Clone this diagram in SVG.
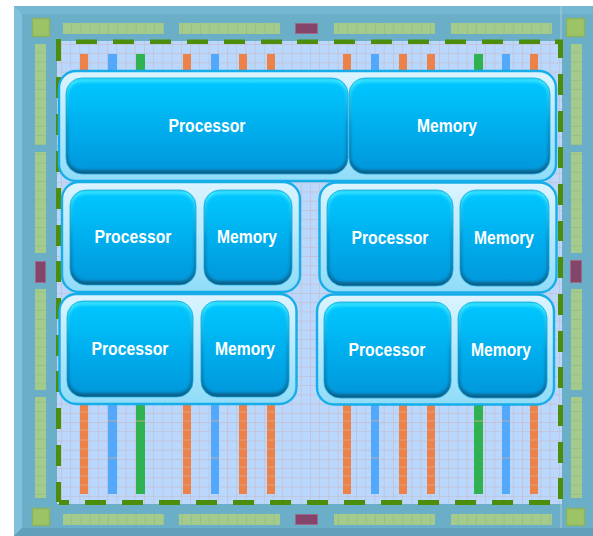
<svg xmlns="http://www.w3.org/2000/svg" width="593" height="536" viewBox="0 0 593 536">
<defs>
<linearGradient id="con" x1="0" y1="0" x2="0" y2="1"><stop offset="0" stop-color="#dcf4ff"/><stop offset="1" stop-color="#8fdcf8"/></linearGradient>
<linearGradient id="blk" x1="0" y1="0" x2="0" y2="1"><stop offset="0" stop-color="#00c6ff"/><stop offset="1" stop-color="#0598dc"/></linearGradient>
<linearGradient id="rim" x1="0" y1="0" x2="0" y2="1"><stop offset="0" stop-color="#28d0f6"/><stop offset=".04" stop-color="#3ce8ff"/><stop offset=".5" stop-color="#0a8fc8"/><stop offset=".93" stop-color="#0c6a98"/><stop offset="1" stop-color="#0c5a80"/></linearGradient>
<filter id="soft" x="-10%" y="-10%" width="120%" height="120%"><feGaussianBlur stdDeviation="1.4"/></filter>
<pattern id="grid" x="61" y="44" width="9.22" height="9.22" patternUnits="userSpaceOnUse"><rect width="9.22" height="9.22" fill="#bad8fe"/><path d="M0 0V9.22M0 0H9.22" stroke="#c3c3d6" stroke-width="1.8" fill="none"/></pattern>
<pattern id="padh" x="63" y="0" width="9.2" height="11" patternUnits="userSpaceOnUse"><rect width="9.2" height="11" fill="#a4cb8c"/><path d="M8.7 0V11" stroke="#94c08c" fill="none"/></pattern>
<pattern id="padv" x="0" y="44" width="11" height="9.2" patternUnits="userSpaceOnUse"><rect width="11" height="9.2" fill="#a4cb8c"/><path d="M0 8.7H11" stroke="#94c08c" fill="none"/></pattern>
<style>
.o{fill:#ec8249}.b{fill:#52a9fb}.g{fill:#2fb24f}
.d{fill:#4c8e0b}
.m{fill:#85446a;stroke:#9a6a88;stroke-width:1}
.c{fill:#9cc366;stroke:#8bb263;stroke-width:1.5}
.ph{fill:url(#padh)}.pv{fill:url(#padv)}
.con{fill:url(#con);stroke:#16ade9;stroke-width:2.4}
.blk{fill:url(#rim);stroke:#14a8de;stroke-width:.8}
.in{fill:url(#blk);filter:url(#soft)}
.t{font-family:"Liberation Sans",Arial,sans-serif;font-weight:700;font-size:18px;fill:#fff;text-anchor:middle}
</style>
</defs>
<rect x="0" y="0" width="593" height="536" fill="#fff"/>
<g id="chip">
<rect x="14" y="6" width="579" height="530" fill="#6aaec8"/>
<path d="M14 6H593V14H22V528H593V536H14Z" fill="#74b7d2"/>
<path d="M14 6L22 14V528L14 536Z" fill="#7fc0dd"/>
<path d="M22 528H593V536H14Z" fill="#629fbb"/>
<path d="M561 6V528" stroke="#a9cbda" stroke-width="1"/>
<rect x="57" y="41" width="505" height="463" fill="url(#grid)"/>
</g>
<g id="pads">
<rect class="c" x="32.500" y="18.500" width="17" height="18"/><rect class="c" x="566.500" y="18.500" width="18" height="18"/>
<rect class="c" x="32.500" y="508.500" width="17" height="17"/><rect class="c" x="566.500" y="508.500" width="18" height="17"/>
<rect class="ph" x="63" y="23" width="101" height="11"/><rect class="ph" x="179" y="23" width="101" height="11"/><rect class="ph" x="334" y="23" width="101" height="11"/><rect class="ph" x="451" y="23" width="101" height="11"/>
<rect class="ph" x="63" y="514" width="101" height="11"/><rect class="ph" x="179" y="514" width="101" height="11"/><rect class="ph" x="334" y="514" width="101" height="11"/><rect class="ph" x="451" y="514" width="101" height="11"/>
<rect class="pv" x="35" y="44" width="11" height="101"/><rect class="pv" x="35" y="152" width="11" height="101"/><rect class="pv" x="35" y="289" width="11" height="101"/><rect class="pv" x="35" y="397" width="11" height="101"/>
<rect class="pv" x="571" y="44" width="11" height="101"/><rect class="pv" x="571" y="152" width="11" height="101"/><rect class="pv" x="571" y="289" width="11" height="101"/><rect class="pv" x="571" y="397" width="11" height="101"/>
<rect class="m" x="295.500" y="23.500" width="22" height="10"/><rect class="m" x="295.500" y="514.500" width="22" height="10"/>
<rect class="m" x="35.500" y="261.500" width="10" height="21"/><rect class="m" x="570.500" y="260.500" width="11" height="22"/>
</g>
<g id="dashes">
<path class="d" d="M56 39H61V61H56ZM76 39.500H97V44H76ZM113 39.500H134V44H113ZM150 39.500H171V44H150ZM187 39.500H208V44H187ZM224 39.500H245V44H224ZM261 39.500H282V44H261ZM297 39.500H318V44H297ZM334 39.500H355V44H334ZM371 39.500H392V44H371ZM408 39.500H429V44H408ZM445 39.500H466V44H445ZM482 39.500H503V44H482ZM519 39.500H540V44H519ZM555 39.500H563V58H558V44H555Z"/>
<path class="d" d="M56 77H61V98H56ZM56 114H61V135H56ZM56 151H61V172H56ZM56 188H61V209H56ZM56 225H61V246H56ZM56 261H61V282H56ZM56 298H61V319H56ZM56 335H61V356H56ZM56 371H61V392H56ZM56 408H61V429H56ZM56 445H61V466H56ZM56 482H61V502H56Z"/>
<path class="d" d="M558 74H563V95H558ZM558 111H563V132H558ZM558 147H563V168H558ZM558 184H563V205H558ZM558 221H563V241H558ZM558 257H563V278H558ZM558 294H563V315H558ZM558 331H563V352H558ZM558 367H563V388H558ZM558 405H563V426H558ZM558 442H563V463H558ZM558 478H563V499H558Z"/>
<path class="d" d="M59 500H69V505H59ZM85 500H106V505H85ZM122 500H143V505H122ZM159 500H180V505H159ZM196 500H217V505H196ZM233 500H254V505H233ZM270 500H291V505H270ZM307 500H328V505H307ZM344 500H365V505H344ZM381 500H402V505H381ZM418 500H439V505H418ZM455 500H476V505H455ZM492 500H513V505H492ZM529 500H550V505H529Z"/>
</g>
<g id="connectors">
<rect class="o" x="80" y="54" width="8" height="18"/><rect class="b" x="108" y="54" width="9" height="18"/><rect class="g" x="136" y="54" width="9" height="18"/><rect class="o" x="183" y="54" width="8" height="18"/><rect class="b" x="211" y="54" width="8" height="18"/><rect class="o" x="239" y="54" width="8" height="18"/><rect class="o" x="267" y="54" width="8" height="18"/><rect class="o" x="343" y="54" width="8" height="18"/><rect class="b" x="371" y="54" width="8" height="18"/><rect class="o" x="399" y="54" width="8" height="18"/><rect class="o" x="427" y="54" width="8" height="18"/><rect class="g" x="474" y="54" width="9" height="18"/><rect class="b" x="502" y="54" width="8" height="18"/><rect class="o" x="530" y="54" width="8" height="18"/>
<rect class="o" x="80" y="400" width="8" height="94"/><rect class="b" x="108" y="400" width="9" height="94"/><rect class="g" x="136" y="400" width="9" height="94"/><rect class="o" x="183" y="400" width="8" height="94"/><rect class="b" x="211" y="400" width="8" height="94"/><rect class="o" x="239" y="400" width="8" height="94"/><rect class="o" x="267" y="400" width="8" height="94"/><rect class="o" x="343" y="400" width="8" height="94"/><rect class="b" x="371" y="400" width="8" height="94"/><rect class="o" x="399" y="400" width="8" height="94"/><rect class="o" x="427" y="400" width="8" height="94"/><rect class="g" x="474" y="400" width="9" height="94"/><rect class="b" x="502" y="400" width="8" height="94"/><rect class="o" x="530" y="400" width="8" height="94"/>
<path d="M80 412H88M80 421H88M80 430H88M80 440H88M80 449H88M80 458H88M80 467H88M80 476H88M80 485H88M239 412H247M239 421H247M239 430H247M239 440H247M239 449H247M239 458H247M239 467H247M239 476H247M239 485H247M267 412H275M267 421H275M267 430H275M267 440H275M267 449H275M267 458H275M267 467H275M267 476H275M267 485H275M183 412H191M183 421H191M183 430H191M183 440H191M183 449H191M183 458H191M183 467H191M183 476H191M183 485H191M343 412H351M343 421H351M343 430H351M343 440H351M343 449H351M343 458H351M343 467H351M343 476H351M343 485H351M399 412H407M399 421H407M399 430H407M399 440H407M399 449H407M399 458H407M399 467H407M399 476H407M399 485H407M427 412H435M427 421H435M427 430H435M427 440H435M427 449H435M427 458H435M427 467H435M427 476H435M427 485H435M530 412H538M530 421H538M530 430H538M530 440H538M530 449H538M530 458H538M530 467H538M530 476H538M530 485H538M108 421H117M108 458H117M211 421H219M211 458H219M371 421H379M371 458H379M502 421H510M502 458H510M136 421H145M474 421H483" stroke="#e0a88c" stroke-width=".8" fill="none"/>
</g>
<g id="cluster-top"><rect class="con" x="59" y="71" width="497" height="110" rx="17"/></g>
<g id="cluster-mid-left"><rect class="con" x="62" y="182" width="238" height="110" rx="17"/></g>
<g id="cluster-mid-right"><rect class="con" x="319.500" y="182.500" width="237" height="110" rx="17"/></g>
<g id="cluster-bot-left"><rect class="con" x="59.500" y="294" width="237" height="110" rx="17"/></g>
<g id="cluster-bot-right"><rect class="con" x="317" y="294.500" width="237" height="110" rx="17"/></g>
<g id="proc-top"><rect class="blk" x="66" y="78" width="282" height="96" rx="16"/><rect class="in" x="68" y="82" width="278" height="88" rx="14"/><text class="t" x="207" y="132" textLength="77" lengthAdjust="spacingAndGlyphs">Processor</text></g>
<g id="mem-top"><rect class="blk" x="349" y="78" width="201" height="96" rx="16"/><rect class="in" x="351" y="82" width="197" height="88" rx="14"/><text class="t" x="447" y="132" textLength="60" lengthAdjust="spacingAndGlyphs">Memory</text></g>
<g id="proc-mid-left"><rect class="blk" x="70" y="190" width="126" height="95" rx="16"/><rect class="in" x="72" y="194" width="122" height="87" rx="14"/><text class="t" x="133" y="243" textLength="77" lengthAdjust="spacingAndGlyphs">Processor</text></g>
<g id="mem-mid-left"><rect class="blk" x="204" y="190" width="88" height="95" rx="16"/><rect class="in" x="206" y="194" width="84" height="87" rx="14"/><text class="t" x="247" y="243" textLength="60" lengthAdjust="spacingAndGlyphs">Memory</text></g>
<g id="proc-mid-right"><rect class="blk" x="327" y="190" width="126" height="96" rx="16"/><rect class="in" x="329" y="194" width="122" height="88" rx="14"/><text class="t" x="390" y="244" textLength="77" lengthAdjust="spacingAndGlyphs">Processor</text></g>
<g id="mem-mid-right"><rect class="blk" x="460" y="190" width="89" height="96" rx="16"/><rect class="in" x="462" y="194" width="85" height="88" rx="14"/><text class="t" x="504" y="244" textLength="60" lengthAdjust="spacingAndGlyphs">Memory</text></g>
<g id="proc-bot-left"><rect class="blk" x="67" y="301" width="126" height="96" rx="16"/><rect class="in" x="69" y="305" width="122" height="88" rx="14"/><text class="t" x="130" y="355" textLength="77" lengthAdjust="spacingAndGlyphs">Processor</text></g>
<g id="mem-bot-left"><rect class="blk" x="201" y="301" width="88" height="96" rx="16"/><rect class="in" x="203" y="305" width="84" height="88" rx="14"/><text class="t" x="245" y="355" textLength="60" lengthAdjust="spacingAndGlyphs">Memory</text></g>
<g id="proc-bot-right"><rect class="blk" x="324" y="302" width="127" height="96" rx="16"/><rect class="in" x="326" y="306" width="123" height="88" rx="14"/><text class="t" x="387" y="356" textLength="77" lengthAdjust="spacingAndGlyphs">Processor</text></g>
<g id="mem-bot-right"><rect class="blk" x="458" y="302" width="89" height="96" rx="16"/><rect class="in" x="460" y="306" width="85" height="88" rx="14"/><text class="t" x="501" y="356" textLength="60" lengthAdjust="spacingAndGlyphs">Memory</text></g>
</svg>
